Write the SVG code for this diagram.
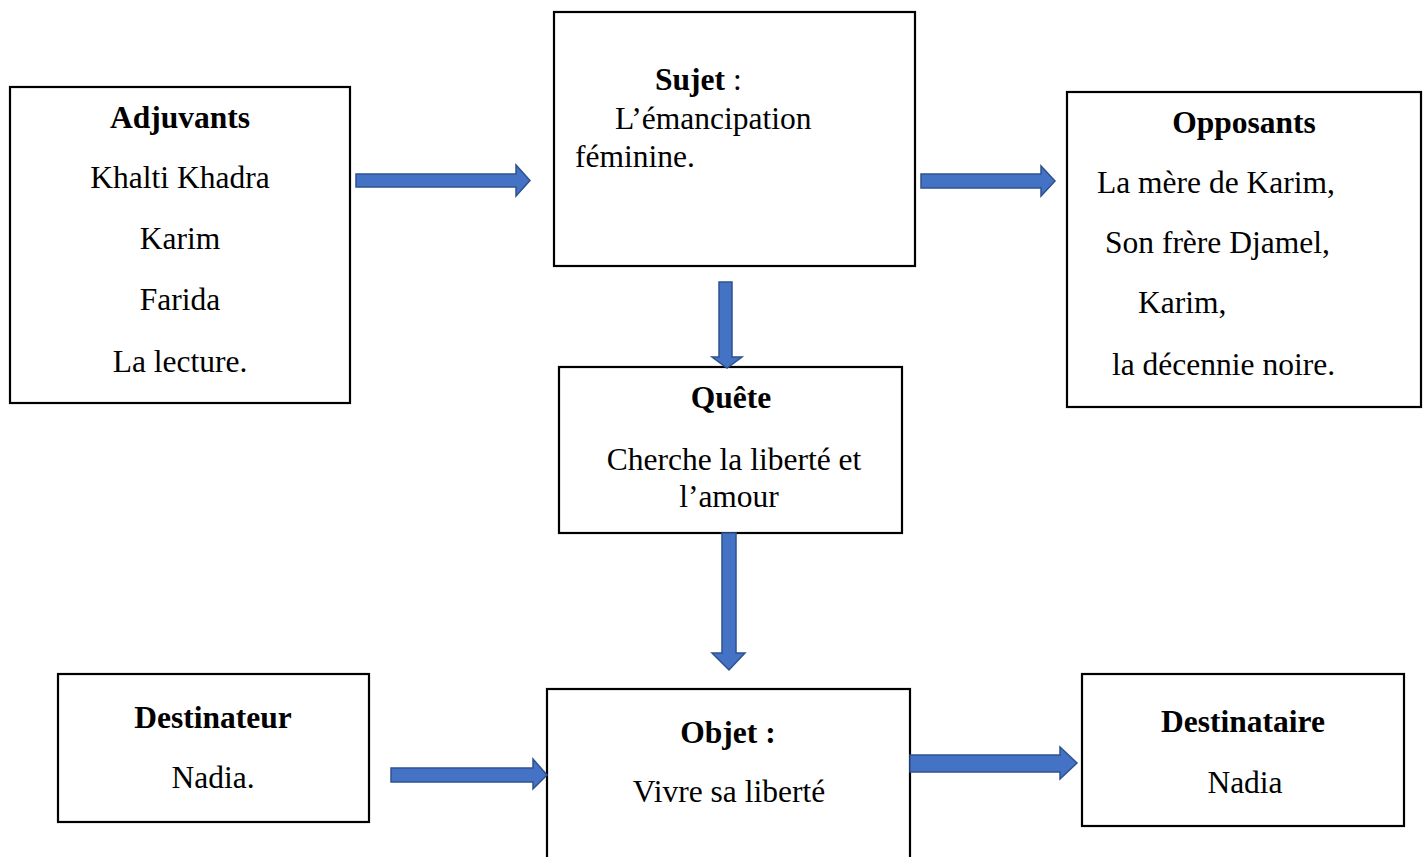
<svg xmlns="http://www.w3.org/2000/svg" width="1424" height="857" viewBox="0 0 1424 857">
<style>
.box{fill:#fff;stroke:#000;stroke-width:2.2}
.t{font-family:"Liberation Serif","Times New Roman",serif;font-size:31.5px;fill:#000}
.b{font-weight:bold}
.c{text-anchor:middle}
.arr{fill:#4472C4;stroke:#2F528F;stroke-width:1.5;stroke-linejoin:miter}
</style>
<rect width="1424" height="857" fill="#fff"/>
<g id="adjuvants">
<rect class="box" x="10" y="87" width="340" height="316"/>
<text class="t b c" x="180" y="128">Adjuvants</text>
<text class="t c" x="180" y="188">Khalti Khadra</text>
<text class="t c" x="180" y="249">Karim</text>
<text class="t c" x="180" y="310">Farida</text>
<text class="t c" x="180" y="372">La lecture.</text>
</g>
<g id="sujet">
<rect class="box" x="554" y="12" width="361" height="254"/>
<text class="t" x="655" y="90"><tspan class="b">Sujet</tspan> :</text>
<text class="t" x="615" y="129">L’émancipation</text>
<text class="t" x="575" y="167">féminine.</text>
</g>
<g id="opposants">
<rect class="box" x="1067" y="92" width="354" height="315"/>
<text class="t b c" x="1244" y="133">Opposants</text>
<text class="t" x="1097" y="193">La mère de Karim,</text>
<text class="t" x="1105" y="253">Son frère Djamel,</text>
<text class="t" x="1138" y="313">Karim,</text>
<text class="t" x="1112" y="375">la décennie noire.</text>
</g>
<g id="quete">
<rect class="box" x="559" y="367" width="343" height="166"/>
<text class="t b c" x="731" y="408">Quête</text>
<text class="t c" x="734" y="470">Cherche la liberté et</text>
<text class="t c" x="729" y="507">l’amour</text>
</g>
<g id="destinateur">
<rect class="box" x="58" y="674" width="311" height="148"/>
<text class="t b c" x="213" y="728">Destinateur</text>
<text class="t c" x="213" y="788">Nadia.</text>
</g>
<g id="objet">
<rect class="box" x="547" y="689" width="363" height="180"/>
<text class="t b c" x="728" y="743">Objet :</text>
<text class="t c" x="729" y="802">Vivre sa liberté</text>
</g>
<g id="destinataire">
<rect class="box" x="1082" y="674" width="322" height="152"/>
<text class="t b c" x="1243" y="732">Destinataire</text>
<text class="t c" x="1245" y="793">Nadia</text>
</g>
<g id="connectors">
<polygon class="arr" points="356,174 516,174 516,165 530,180.5 516,196 516,187 356,187"/>
<polygon class="arr" points="921,174 1041,174 1041,166 1055,181 1041,196 1041,188 921,188"/>
<polygon class="arr" points="719,282 732,282 732,357 742,357 727,368 712,357 719,357"/>
<polygon class="arr" points="722,533 736,533 736,653 745,653 729,670 712,653 722,653"/>
<polygon class="arr" points="391,768 533,768 533,759 547,775 533,789 533,782 391,782"/>
<polygon class="arr" points="910,755 1060,755 1060,747 1077,763 1060,779 1060,772 910,772"/>
</g>
</svg>
